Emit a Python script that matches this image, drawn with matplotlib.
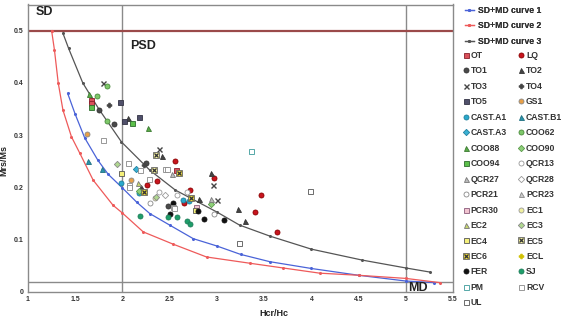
import matplotlib
matplotlib.use("Agg")
import matplotlib.pyplot as plt

plt.rcParams['font.family'] = ['Liberation Sans', 'DejaVu Sans']

# ---- curves ----
c1_x = [1.42, 1.50, 1.60, 1.74, 1.85, 2.00, 2.15, 2.29, 2.50, 2.75, 3.00, 3.25, 3.56, 4.00, 4.50, 5.00, 5.30]
c1_y = [0.380, 0.340, 0.295, 0.252, 0.225, 0.199, 0.172, 0.150, 0.128, 0.102, 0.088, 0.072, 0.058, 0.045, 0.032, 0.021, 0.018]
c2_x = [1.25, 1.28, 1.32, 1.37, 1.46, 1.55, 1.69, 1.90, 2.00, 2.22, 2.53, 2.89, 3.35, 3.70, 4.09, 4.50, 5.00, 5.36]
c2_y = [0.500, 0.463, 0.400, 0.348, 0.297, 0.265, 0.214, 0.166, 0.151, 0.115, 0.092, 0.067, 0.055, 0.046, 0.036, 0.032, 0.026, 0.018]
c3_x = [1.37, 1.43, 1.58, 1.75, 1.99, 2.29, 2.56, 3.00, 3.24, 3.56, 4.00, 4.54, 5.00, 5.26]
c3_y = [0.495, 0.466, 0.400, 0.350, 0.287, 0.233, 0.195, 0.153, 0.128, 0.107, 0.082, 0.061, 0.046, 0.038]

# ---- sample data (Hcr/Hc, Mrs/Ms) ----
OT_x = [1.67, 1.67, 2.57];            OT_y = [0.367, 0.361, 0.233]
LQ_x = [2.26, 2.37, 2.56, 2.65, 2.71, 2.97, 3.40, 3.47, 3.64]
LQ_y = [0.205, 0.212, 0.250, 0.171, 0.195, 0.219, 0.154, 0.186, 0.115]
TO1_x = [1.75, 1.91, 2.25, 2.48];     TO1_y = [0.349, 0.322, 0.247, 0.165]
TO2_x = [2.06, 2.20, 2.42, 2.81, 2.94, 3.22, 3.30]
TO2_y = [0.333, 0.200, 0.261, 0.177, 0.228, 0.159, 0.136]
TO3_x = [1.79, 2.39, 2.96, 3.00];     TO3_y = [0.399, 0.273, 0.205, 0.176]
TO4_x = [1.86, 2.23];                 TO4_y = [0.358, 0.243]
TO5_x = [1.97, 2.02, 2.17];           TO5_y = [0.363, 0.327, 0.335]
GS1_x = [1.63, 2.09];                 GS1_y = [0.303, 0.214]
CASTA1_x = [1.98, 2.17, 2.64, 2.70];  CASTA1_y = [0.208, 0.190, 0.176, 0.175]
CASTB1_x = [1.64, 1.78];              CASTB1_y = [0.250, 0.236]
CASTA3_x = [2.14];                    CASTA3_y = [0.236]
COO62_x = [1.84, 1.73, 1.84];         COO62_y = [0.394, 0.375, 0.328]
COO88_x = [1.65, 2.27];               COO88_y = [0.379, 0.314]
COO90_x = [2.17, 2.94];               COO90_y = [0.194, 0.168]
COO94_x = [1.67, 2.10];               COO94_y = [0.353, 0.324]
QCR13_x = [2.39, 2.58, 2.68];         QCR13_y = [0.192, 0.185, 0.192]
QCR27_x = [2.52, 2.94];               QCR27_y = [0.225, 0.177]
QCR28_x = [2.45];                     QCR28_y = [0.185]
PCR21_x = [2.29, 2.97];               PCR21_y = [0.170, 0.149]
PCR23_x = [];                         PCR23_y = []
PCR30_x = [2.78];                     PCR30_y = [0.163]
EC1_x = [2.34];                       EC1_y = [0.179]
EC2_x = [2.16];                       EC2_y = [0.208]
EC3_x = [1.94, 2.35];                 EC3_y = [0.244, 0.182]
EC4_x = [1.99, 2.77];                 EC4_y = [0.228, 0.157]
EC5_x = [2.35, 2.33];                 EC5_y = [0.262, 0.233]
EC6_x = [2.23, 2.60, 2.73];           EC6_y = [0.192, 0.227, 0.179]
ECL_x = [];                           ECL_y = []
FER_x = [2.50, 2.54, 2.80, 2.86, 3.08]; FER_y = [0.149, 0.170, 0.155, 0.140, 0.138]
SJ_x = [2.19, 2.48, 2.58, 2.68, 2.71]; SJ_y = [0.145, 0.144, 0.144, 0.136, 0.131]
PM_x = [3.36];                        PM_y = [0.270]
RCV_x = [1.79, 2.06, 2.07, 2.07, 2.19, 2.28, 2.45, 2.47, 2.54, 2.55]
RCV_y = [0.291, 0.247, 0.205, 0.200, 0.234, 0.217, 0.235, 0.235, 0.163, 0.160]
UL_x = [3.23, 3.99];                  UL_y = [0.094, 0.194]

W, H = 561, 316
fig = plt.figure(figsize=(W / 100, H / 100), dpi=100)
ax = fig.add_axes([28 / W, 1 - 292 / H, (453 - 28) / W, (292 - 4.5) / H])
ax.set_xlim(1, 5.5)
ax.set_ylim(0, 0.55)
ax.set_xticks([1, 1.5, 2, 2.5, 3, 3.5, 4, 4.5, 5, 5.5])
ax.set_xticklabels(['1', '1.5', '2', '2.5', '3', '3.5', '4', '4.5', '5', '5.5'])
ax.set_yticks([0, 0.1, 0.2, 0.3, 0.4, 0.5])
ax.set_yticklabels(['0', '0.1', '0.2', '0.3', '0.4', '0.5'])
ax.tick_params(labelsize=5, length=0, pad=3, colors='#333333')
for lab in ax.get_xticklabels() + ax.get_yticklabels():
    lab.set_fontweight('bold')
for s in ax.spines.values():
    s.set_color('#8a8a8a')
    s.set_linewidth(1.0)

# region lines
ax.axvline(2, color='#8a8a8a', lw=1.0, zorder=1)
ax.axvline(5, color='#8a8a8a', lw=1.0, zorder=1)
ax.axhline(0.02, color='#8a8a8a', lw=1.0, zorder=1)
ax.axhline(0.5, color='#9b4a4a', lw=1.6, zorder=1)

ax.text(1.08, 0.535, 'SD', fontsize=9, fontweight='bold', color='#222222', va='center', ha='left')
ax.text(2.08, 0.47, 'PSD', fontsize=9, fontweight='bold', color='#222222', va='center', ha='left')
ax.text(5.03, 0.008, 'MD', fontsize=9, fontweight='bold', color='#222222', va='center', ha='left')

# curves
l1, = ax.plot(c1_x, c1_y, color='#4a63d8', lw=0.9, marker='o', ms=1.2, zorder=2)
l2, = ax.plot(c2_x, c2_y, color='#ee5a5a', lw=0.9, marker='o', ms=1.2, zorder=2)
l3, = ax.plot(c3_x, c3_y, color='#555555', lw=0.9, marker='o', ms=1.2, zorder=2)

MS = 3.6
def pts(x, y, marker, fc, ec, ms=MS, mew=0.6):
    h, = ax.plot(x, y, ls='none', marker=marker, ms=ms, mfc=fc, mec=ec, mew=mew, zorder=3)
    return h

def xsq(x, y, fc, ec):
    a = pts(x, y, 's', fc, '#666666', ms=MS + 0.4)
    b = pts(x, y, 'x', 'none', ec, ms=MS - 0.8, mew=0.9)
    return (a, b)

h = {}
h['OT'] = pts(OT_x, OT_y, 's', '#d9505a', '#8a1f2a')
h['LQ'] = pts(LQ_x, LQ_y, 'o', '#c8141e', '#8b0000')
h['TO1'] = pts(TO1_x, TO1_y, 'o', '#4a4a4a', '#333333')
h['TO2'] = pts(TO2_x, TO2_y, '^', '#444444', '#333333')
h['TO3'] = pts(TO3_x, TO3_y, 'x', 'none', '#444444', mew=1.0)
h['TO4'] = pts(TO4_x, TO4_y, 'P', '#444444', '#444444', ms=3.4)
h['TO5'] = pts(TO5_x, TO5_y, 's', '#50506a', '#333344')
h['GS1'] = pts(GS1_x, GS1_y, 'o', '#e8a048', '#888888')
h['CAST.A1'] = pts(CASTA1_x, CASTA1_y, 'o', '#2aa8cc', '#1f7f9a')
h['CAST.B1'] = pts(CASTB1_x, CASTB1_y, '^', '#2a94ac', '#1f6f80')
h['CAST.A3'] = pts(CASTA3_x, CASTA3_y, 'D', '#3bb2d4', '#2080a0', ms=3.2)
h['COO62'] = pts(COO62_x, COO62_y, 'o', '#7ec86a', '#4a8a3c')
h['COO88'] = pts(COO88_x, COO88_y, '^', '#5aaa48', '#3a7a30')
h['COO90'] = pts(COO90_x, COO90_y, 'D', '#8fd07a', '#5a9a4a', ms=3.2)
h['COO94'] = pts(COO94_x, COO94_y, 's', '#5cc04a', '#2d6b2d')
h['QCR13'] = pts(QCR13_x, QCR13_y, 'o', 'white', '#999999')
h['QCR27'] = pts(QCR27_x, QCR27_y, '^', '#bbbbbb', '#777777')
h['QCR28'] = pts(QCR28_x, QCR28_y, 'D', 'white', '#999999', ms=3.2)
h['PCR21'] = pts(PCR21_x, PCR21_y, 'o', 'white', '#888888')
h['PCR23'] = pts(PCR23_x, PCR23_y, '^', '#cccccc', '#888888')
h['PCR30'] = pts(PCR30_x, PCR30_y, 's', '#f2c4d0', '#8a5a7a')
h['EC1'] = pts(EC1_x, EC1_y, 'o', '#f0f0a0', '#999999')
h['EC2'] = pts(EC2_x, EC2_y, '^', '#c8d870', '#777777')
h['EC3'] = pts(EC3_x, EC3_y, 'D', '#b0d890', '#888888', ms=3.2)
h['EC4'] = pts(EC4_x, EC4_y, 's', '#f5f07a', '#555555')
h['EC5'] = xsq(EC5_x, EC5_y, '#f3f0a0', '#333333')
h['EC6'] = xsq(EC6_x, EC6_y, '#e8d840', '#333333')
h['ECL'] = pts(ECL_x, ECL_y, 'P', '#d0c000', '#d0c000', ms=3.4)
h['FER'] = pts(FER_x, FER_y, 'o', '#111111', '#111111')
h['SJ'] = pts(SJ_x, SJ_y, 'o', '#1e9e6a', '#1e7e5a')
h['PM'] = pts(PM_x, PM_y, 's', 'white', '#3a9a9a')
h['RCV'] = pts(RCV_x, RCV_y, 's', 'white', '#888888')
h['UL'] = pts(UL_x, UL_y, 's', 'white', '#555555')

fig.text(4 / W, 1 - 160 / H, 'Mrs/Ms', rotation=90, fontsize=6.5, fontweight='bold',
         color='#222222', ha='center', va='center')
fig.text(274 / W, 1 - 313 / H, 'Hcr/Hc', fontsize=6.5, fontweight='bold',
         color='#222222', ha='center', va='center')

leg_font = dict(size=6.2, weight='bold')
legA = fig.legend([l1, l2, l3], ['SD+MD curve 1', 'SD+MD curve 2', 'SD+MD curve 3'],
                  loc='upper left', bbox_to_anchor=(465 / W, 1 - 6 / H), frameon=False,
                  prop=leg_font, handlelength=1.0, handletextpad=0.5, labelspacing=0.75,
                  borderpad=0, borderaxespad=0, labelcolor='#333333')

col1 = ['OT', 'TO1', 'TO3', 'TO5', 'CAST.A1', 'CAST.A3', 'COO88', 'COO94', 'QCR27',
        'PCR21', 'PCR30', 'EC2', 'EC4', 'EC6', 'FER', 'PM', 'UL']
col2 = ['LQ', 'TO2', 'TO4', 'GS1', 'CAST.B1', 'COO62', 'COO90', 'QCR13', 'QCR28',
        'PCR23', 'EC1', 'EC3', 'EC5', 'ECL', 'SJ', 'RCV']
names = col1 + col2
legB = fig.legend([h[n] for n in names], names, ncol=2,
                  loc='upper left', bbox_to_anchor=(463 / W, 1 - 51 / H), frameon=False,
                  prop=leg_font, handlelength=0.6, handletextpad=0.3, labelspacing=0.75,
                  columnspacing=1.3, borderpad=0, borderaxespad=0, labelcolor='#333333')
fig.add_artist(legA)

fig.savefig('out.png', dpi=100)
